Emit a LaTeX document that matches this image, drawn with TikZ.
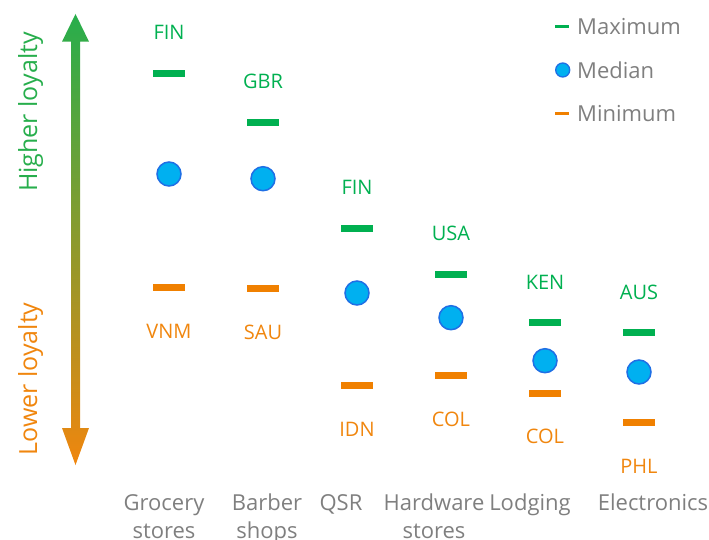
\documentclass[tikz,border=0pt]{standalone}
\usepackage{fontspec}
\setmainfont{Open Sans}

\definecolor{maxgreen}{HTML}{00B050}
\definecolor{minorange}{HTML}{F08000}
\definecolor{medfill}{HTML}{00B0F0}
\definecolor{medline}{HTML}{1F6FE5}
\definecolor{higreen}{HTML}{27AE4C}
\definecolor{loorange}{HTML}{F0860E}
\definecolor{labgray}{HTML}{7F7F7F}

\begin{document}
\begin{tikzpicture}[x=1pt,y=1pt,
  maxbar/.style={rectangle, fill=maxgreen, inner sep=0pt, minimum width=32, minimum height=6.7},
  minbar/.style={maxbar, fill=minorange},
  median/.style={circle, fill=medfill, draw=medline, line width=1.5pt, inner sep=0pt, minimum size=24},
  ctry/.style={font=\fontsize{20}{24}\selectfont, inner sep=0pt},
  cat/.style={font=\fontsize{22}{27.3}\selectfont, text=labgray, align=center, anchor=base, inner sep=0pt},
  legtext/.style={font=\fontsize{22}{26}\selectfont, text=labgray, anchor=west, inner sep=0pt},
  loyal/.style={font=\fontsize{25}{30}\selectfont, rotate=90, anchor=base, inner sep=0pt}]

\useasboundingbox (0,0) rectangle (709,-540);

% Loyalty axis, green on top fading to orange at the bottom
\shade[top color=higreen, bottom color=loorange]
  (75.5,-14) -- (89,-41.7) -- (80,-41.7) -- (80,-428) -- (89,-428) -- (75.5,-465)
  -- (62,-428) -- (71,-428) -- (71,-41.7) -- (62,-41.7) -- cycle;
\node[loyal, text=higreen] (hi) at (37,-112) {Higher loyalty};
\node[loyal, text=loorange] (lo) at (37,-379) {Lower loyalty};

% Grocery stores
\node[maxbar] (gmax) at (169,-73.3) {};
\node[ctry, text=maxgreen] (gmaxl) at (169,-32.5) {FIN};
\node[median] (gmed) at (169,-174) {};
\node[minbar] (gmin) at (169,-287.3) {};
\node[ctry, text=loorange] (gminl) at (169,-331.3) {VNM};

% Barber shops
\node[maxbar] (bmax) at (263,-122.3) {};
\node[ctry, text=maxgreen] (bmaxl) at (263,-81.7) {GBR};
\node[median] (bmed) at (263,-178.7) {};
\node[minbar] (bmin) at (263,-288.3) {};
\node[ctry, text=loorange] (bminl) at (263,-332) {SAU};

% QSR
\node[maxbar] (qmax) at (357,-228.3) {};
\node[ctry, text=maxgreen] (qmaxl) at (357,-187.5) {FIN};
\node[median] (qmed) at (357,-293) {};
\node[minbar] (qmin) at (357,-385.3) {};
\node[ctry, text=loorange] (qminl) at (357,-429.5) {IDN};

% Hardware stores
\node[maxbar] (hmax) at (451,-274.3) {};
\node[ctry, text=maxgreen] (hmaxl) at (451,-233) {USA};
\node[median] (hmed) at (451,-317.7) {};
\node[minbar] (hmin) at (451,-375.3) {};
\node[ctry, text=loorange] (hminl) at (451,-419.7) {COL};

% Lodging
\node[maxbar] (lmax) at (545,-322.3) {};
\node[ctry, text=maxgreen] (lmaxl) at (545,-282) {KEN};
\node[median] (lmed) at (545,-360.7) {};
\node[minbar] (lmin) at (545,-393.3) {};
\node[ctry, text=loorange] (lminl) at (545,-436.7) {COL};

% Electronics
\node[maxbar] (emax) at (639,-332.3) {};
\node[ctry, text=maxgreen] (emaxl) at (639,-292) {AUS};
\node[median] (emed) at (639,-372) {};
\node[minbar] (emin) at (639,-422.3) {};
\node[ctry, text=loorange] (eminl) at (639,-466.7) {PHL};

% Category names (base of a two-line node is its last line)
\node[cat] (gcat) at (164,-538) {Grocery\\stores};
\node[cat] (bcat) at (267,-538) {Barber\\shops};
\node[cat] (qcat) at (341,-510.7) {QSR};
\node[cat] (hcat) at (434,-538) {Hardware\\stores};
\node[cat] (lcat) at (530,-510.7) {Lodging};
\node[cat] (ecat) at (653,-510.7) {Electronics};

% Legend
\node[maxbar, minimum width=14, minimum height=3.5] (kmax) at (562,-26.5) {};
\node[legtext] (kmaxt) at (577,-26.7) {Maximum};
\node[median, minimum size=14, line width=1.3pt] (kmed) at (562.7,-70) {};
\node[legtext] (kmedt) at (577,-70) {Median};
\node[minbar, minimum width=14, minimum height=3.5] (kmin) at (562,-113.3) {};
\node[legtext] (kmint) at (577,-113.3) {Minimum};
\end{tikzpicture}
\end{document}
